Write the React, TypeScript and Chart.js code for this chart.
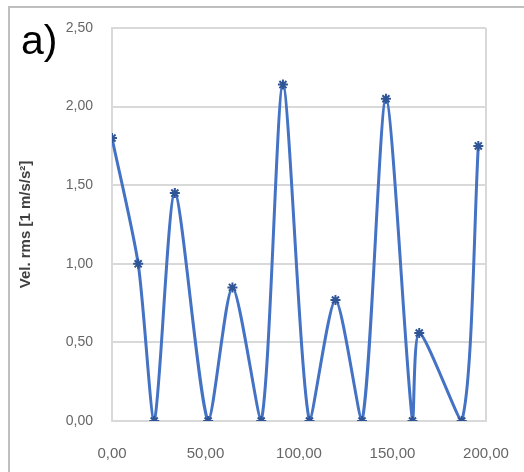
import React, { useEffect, useRef } from "react";
import { Chart, registerables } from "chart.js";

Chart.register(...registerables);

const xValues = [0, 14, 22.6, 33.6, 51.4, 64.4, 79.8, 91.4, 105.6, 119.5, 133.7, 146.5, 160.7, 164.3, 187, 195.9];
const yValues = [1.8, 1.0, 0, 1.45, 0, 0.85, 0, 2.14, 0, 0.77, 0, 2.05, 0, 0.56, 0, 1.75];
const yTitle = "Vel. rms [1 m/s/s²]";
const panelLabel = "a)";

const fmt = (v: number) => v.toFixed(2).replace(".", ",");
const FONT = "'Liberation Sans', Arial, sans-serif";

export default function App() {
  const ref = useRef<HTMLCanvasElement | null>(null);
  useEffect(() => {
    if (!ref.current) return;
    const decor = {
      id: "decor",
      afterDraw(chart: any) {
        const c = chart.ctx;
        c.save();
        c.strokeStyle = "#BFBFBF";
        c.lineWidth = 2;
        c.beginPath();
        c.moveTo(9, 480);
        c.lineTo(9, 7);
        c.lineTo(530, 7);
        c.stroke();
        c.fillStyle = "#000000";
        c.font = "41px " + FONT;
        c.textBaseline = "alphabetic";
        c.textAlign = "left";
        c.fillText(panelLabel, 21, 54);
        c.restore();
      },
    };
    const chart = new Chart(ref.current, {
      type: "line",
      data: {
        datasets: [
          {
            data: xValues.map((x, i) => ({ x, y: yValues[i] })),
            borderColor: "#4472C4",
            borderWidth: 3,
            tension: 0.25,
            pointStyle: "star",
            pointRadius: 5,
            pointBorderWidth: 2,
            pointBorderColor: "#2F5597",
            pointBackgroundColor: "#2F5597",
          },
        ],
      },
      options: {
        responsive: false,
        animation: false,
        layout: { padding: { left: 14, top: 28, right: 38, bottom: 0 } },
        plugins: { legend: { display: false }, tooltip: { enabled: false } },
        scales: {
          x: {
            type: "linear",
            min: 0,
            max: 200,
            afterFit: (s: any) => {
              s.height = 51;
              s.paddingLeft = 0;
              s.paddingRight = 0;
            },
            ticks: {
              stepSize: 50,
              padding: 24,
              color: "#666666",
              font: { family: FONT, size: 15 },
              callback: (v: any) => fmt(Number(v)),
              maxRotation: 0,
            },
            grid: {
              drawTicks: false,
              lineWidth: 2,
              color: (ctx: any) =>
                ctx.tick && ctx.tick.value === 200 ? "#D9D9D9" : "rgba(0,0,0,0)",
            },
            border: { display: true, color: "#D9D9D9", width: 2 },
          },
          y: {
            min: 0,
            max: 2.5,
            afterFit: (s: any) => {
              s.width = 98;
              s.paddingTop = 0;
              s.paddingBottom = 0;
            },
            title: {
              display: true,
              text: yTitle,
              color: "#404040",
              font: { family: FONT, size: 15, weight: "bold" },
              padding: { top: 3, bottom: 0 },
            },
            ticks: {
              stepSize: 0.5,
              padding: 19,
              color: "#666666",
              font: { family: FONT, size: 14 },
              callback: (v: any) => fmt(Number(v)),
            },
            grid: { drawTicks: false, lineWidth: 2, color: "#D9D9D9" },
            border: { display: true, color: "#D9D9D9", width: 2 },
          },
        },
      },
      plugins: [decor],
    });
    return () => chart.destroy();
  }, []);
  return (
    <div style={{ position: "absolute", left: 0, top: 0, width: 524, height: 472, background: "#fff" }}>
      <canvas ref={ref} width={524} height={472} />
    </div>
  );
}
